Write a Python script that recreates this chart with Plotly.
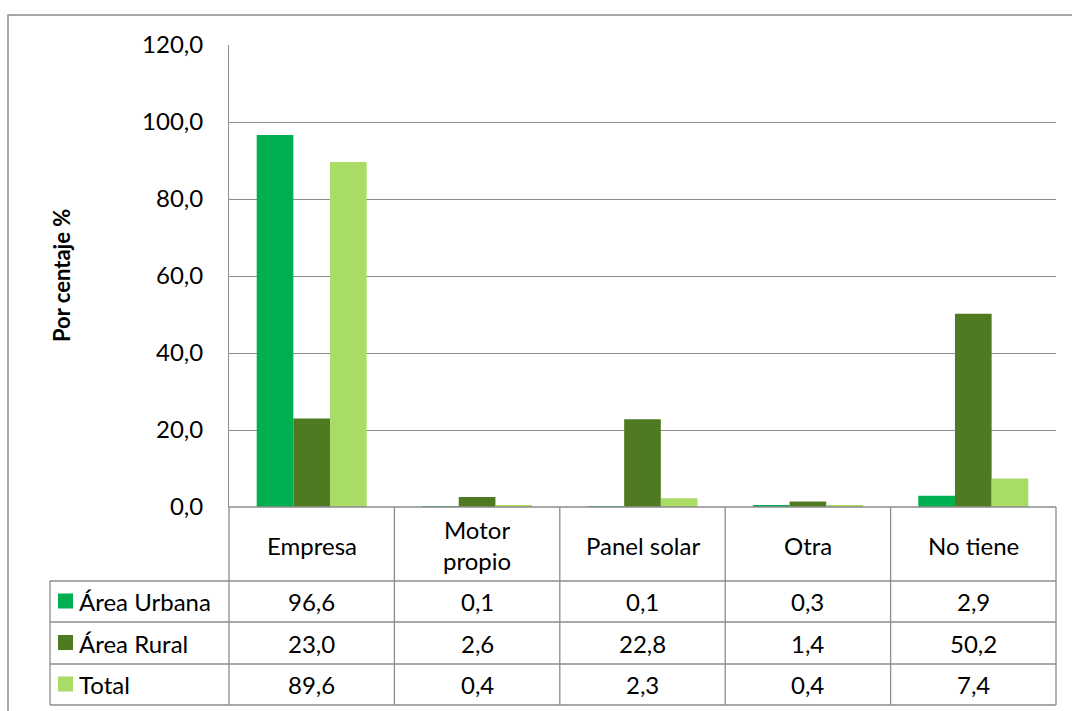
import plotly.graph_objects as go

categories = ["Empresa", "Motor propio", "Panel solar", "Otra", "No tiene"]
category_labels = ["Empresa", "Motor<br>propio", "Panel solar", "Otra", "No tiene"]
series_names = ["Área Urbana", "Área Rural", "Total"]
urbana = [96.6, 0.1, 0.1, 0.3, 2.9]
rural = [23.0, 2.6, 22.8, 1.4, 50.2]
total = [89.6, 0.4, 2.3, 0.4, 7.4]
colors = ["#00B050", "#4F7A21", "#A9DB67"]
y_ticks = [0, 20, 40, 60, 80, 100, 120]

W, H = 1072, 711
FONT = "Lato"
FS = 24
GRID = "#8C8C8C"


def px(x):
    return x / W


def py(y):
    return 1 - y / H


fig = go.Figure()
for name, vals, col in zip(series_names, [urbana, rural, total], colors):
    fig.add_trace(go.Bar(x=categories, y=vals, name=name, marker=dict(color=col, line=dict(width=0)),
                         hoverinfo="skip"))

plot_left, plot_right = 229, 1056
plot_top, plot_bottom = 45, 507
fig.update_layout(
    width=W, height=H, autosize=False,
    margin=dict(l=0, r=0, t=0, b=0, pad=0),
    paper_bgcolor="white", plot_bgcolor="white",
    showlegend=False,
    barmode="group", bargap=0.335, bargroupgap=0,
    separators=", ",
    font=dict(family=FONT, size=FS, color="black"),
    xaxis=dict(domain=[px(plot_left), px(plot_right)], showticklabels=False, showgrid=False,
               showline=False, zeroline=False, ticks="", automargin=False),
    yaxis=dict(domain=[py(plot_bottom), py(plot_top)], range=[0, 120], tickvals=y_ticks,
               tickformat=".1f", showgrid=True, gridcolor=GRID, gridwidth=1, zeroline=False,
               showline=True, linecolor=GRID, linewidth=1, ticks="", ticklen=0,
               ticklabelstandoff=20, automargin=False,
               tickfont=dict(family=FONT, size=FS, color="black")),
)

shapes = []
# outer chart border
shapes.append(dict(type="rect", xref="paper", yref="paper", x0=px(8), x1=px(1090), y0=py(730), y1=py(15),
                   line=dict(color="#8C8C8C", width=1.5), fillcolor="rgba(0,0,0,0)", layer="below"))

col_edges = [plot_left + i * (plot_right - plot_left) / len(categories) for i in range(len(categories) + 1)]
row_edges = [507, 581, 622, 664, 705]
table_left = 50


def line(x0, y0, x1, y1):
    shapes.append(dict(type="line", xref="paper", yref="paper", x0=px(x0), x1=px(x1), y0=py(y0), y1=py(y1),
                       line=dict(color=GRID, width=1.3)))


# horizontal table lines
line(plot_left, row_edges[0], plot_right, row_edges[0])
for r in row_edges[1:]:
    line(table_left, r, plot_right, r)
# vertical table lines
line(table_left, row_edges[1], table_left, row_edges[-1])
for c in col_edges:
    line(c, row_edges[0], c, row_edges[-1])

annotations = []
# category header labels
for i, lab in enumerate(category_labels):
    cx = (col_edges[i] + col_edges[i + 1]) / 2
    annotations.append(dict(xref="paper", yref="paper", x=px(cx), y=py((row_edges[0] + row_edges[1]) / 2 + 1),
                            text=lab, showarrow=False, xanchor="center", yanchor="middle",
                            font=dict(family=FONT, size=FS, color="black")))

# data rows
for r, (name, vals, col) in enumerate(zip(series_names, [urbana, rural, total], colors)):
    cy = (row_edges[r + 1] + row_edges[r + 2]) / 2
    shapes.append(dict(type="rect", xref="paper", yref="paper", x0=px(58), x1=px(73), y0=py(cy + 7), y1=py(cy - 8),
                       fillcolor=col, line=dict(width=0)))
    annotations.append(dict(xref="paper", yref="paper", x=px(77), y=py(cy), text=name, showarrow=False,
                            xanchor="left", yanchor="middle", font=dict(family=FONT, size=FS, color="black")))
    for i, v in enumerate(vals):
        cx = (col_edges[i] + col_edges[i + 1]) / 2
        annotations.append(dict(xref="paper", yref="paper", x=px(cx), y=py(cy),
                                text=f"{v:.1f}".replace(".", ","), showarrow=False,
                                xanchor="center", yanchor="middle",
                                font=dict(family=FONT, size=FS, color="black")))

# y-axis title
annotations.append(dict(xref="paper", yref="paper", x=px(62), y=py(276), text="<b>Por centaje %</b>",
                        textangle=-90, showarrow=False, xanchor="center", yanchor="middle",
                        font=dict(family=FONT, size=22, color="black")))

fig.update_layout(shapes=shapes, annotations=annotations)
fig.write_html("out.html", config={"displayModeBar": False},
               post_script="document.body.style.margin='0px';document.body.style.overflow='hidden';")
